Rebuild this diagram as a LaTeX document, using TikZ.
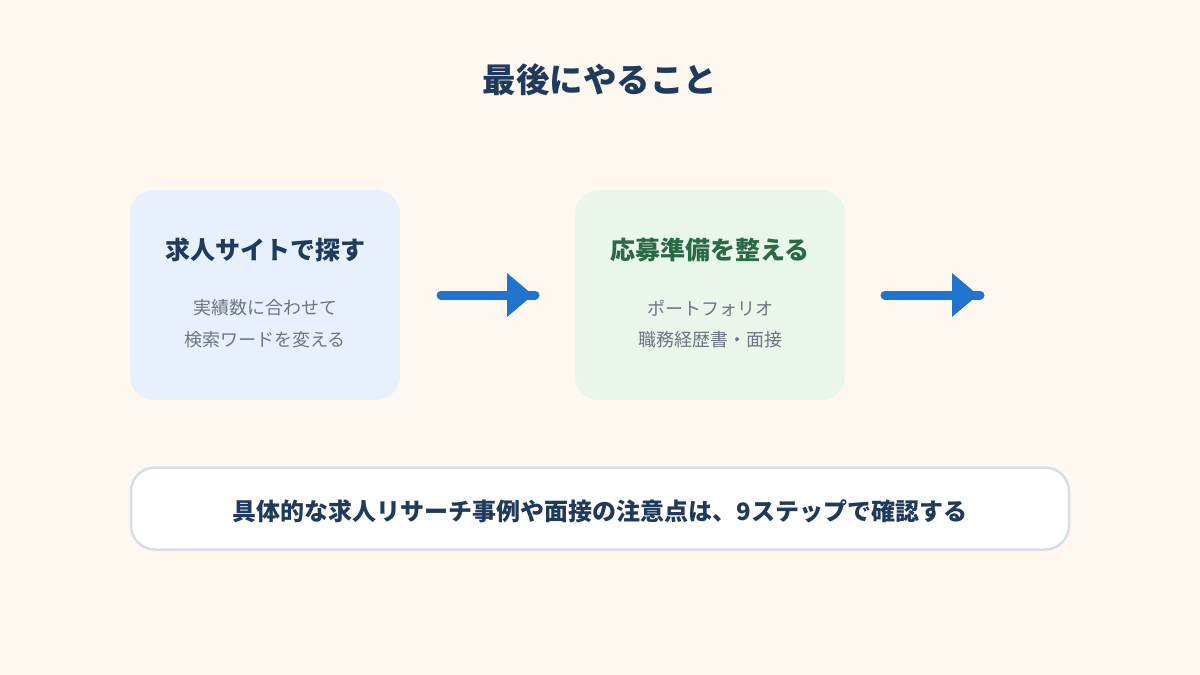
\documentclass[tikz,border=0pt]{standalone}
\usepackage{fontspec}
\newfontfamily\jp{Noto Sans CJK JP}
\usetikzlibrary{positioning}

\definecolor{bgcream}{HTML}{FEF8F1}
\definecolor{navy}{HTML}{1F3A5C}
\definecolor{subgray}{HTML}{6B7684}
\definecolor{leafgreen}{HTML}{2B6A46}
\definecolor{arrowblue}{HTML}{1F74D0}
\definecolor{boxblue}{HTML}{E7F1FD}
\definecolor{boxgreen}{HTML}{E9F6EA}
\definecolor{edgegray}{HTML}{D8DEE8}

\begin{document}
\begin{tikzpicture}[x=1pt,y=-1pt,
  card/.style={rounded corners=24pt,minimum width=270pt,minimum height=210pt,inner sep=0pt},
  cardtitle/.style={font=\jp\bfseries\fontsize{25}{29}\selectfont},
  cardsub/.style={font=\jp\fontsize{18}{21}\selectfont,text=subgray},
  arrowline/.style={draw=arrowblue,line width=9pt,line cap=round},
  arrowhead/.style={fill=arrowblue}]
\fill[bgcream] (0,0) rectangle (1200,675);
\useasboundingbox (0,0) rectangle (1200,675);

\node[font=\jp\bfseries\fontsize{33.5}{38}\selectfont,text=navy] (title) at (600,80) {最後にやること};

% step cards
\node[card,fill=boxblue] (search) at (265,295) {};
\node[cardtitle,text=navy] (searchtitle) at (265,250) {求人サイトで探す};
\node[cardsub] (searchsubA) at (265,308) {実績数に合わせて};
\node[cardsub] (searchsubB) at (265,340) {検索ワードを変える};

\node[card,fill=boxgreen] (prepare) at (710,295) {};
\node[cardtitle,text=leafgreen] (preparetitle) at (710,250) {応募準備を整える};
\node[cardsub] (preparesubA) at (710,308) {ポートフォリオ};
\node[cardsub] (preparesubB) at (710,340) {職務経歴書・面接};

% arrows
\coordinate (arrAs) at (441,295);
\coordinate (arrAe) at (535,295);
\draw[arrowline] (arrAs) -- (arrAe);
\fill[arrowhead] (507,273) -- (533,295) -- (507,317) -- cycle;

\coordinate (arrBs) at (885,295);
\coordinate (arrBe) at (980,295);
\draw[arrowline] (arrBs) -- (arrBe);
\fill[arrowhead] (952,273) -- (978,295) -- (952,317) -- cycle;

% note
\node[rounded corners=24pt,fill=white,draw=edgegray,line width=2.5pt,
  minimum width=938pt,minimum height=82pt,inner sep=0pt] (note) at (600,508.5) {};
\node[font=\jp\bfseries\fontsize{24}{28}\selectfont,text=navy] (notetext) at (600,511) {具体的な求人リサーチ事例や面接の注意点は、9ステップで確認する};
\end{tikzpicture}
\end{document}
